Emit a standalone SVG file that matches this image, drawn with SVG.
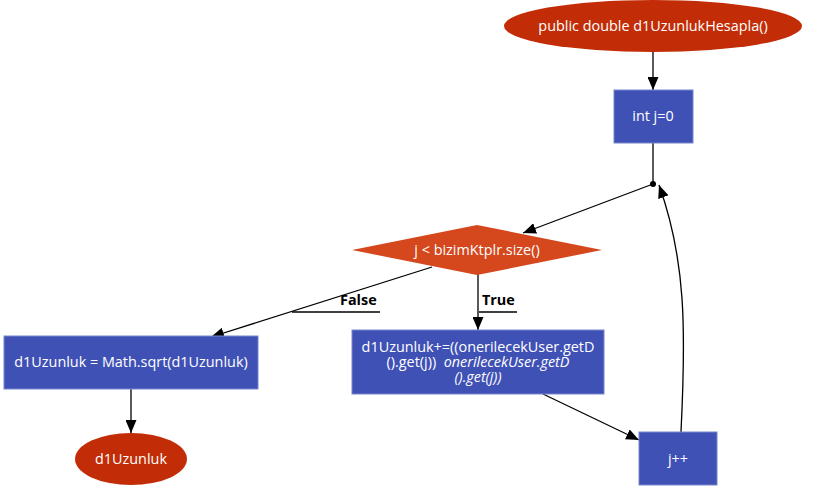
<svg xmlns="http://www.w3.org/2000/svg" width="817" height="492" viewBox="0 0 817 492">
<style>
text{font-family:"Open Sans","DejaVu Sans",sans-serif;font-size:14.4px;fill:#fff;text-anchor:middle}
.term{fill:#c22d07}
.box{fill:#3f51b5;stroke:#7986cb;stroke-width:1}
.dec{fill:#d5471c}
.e{fill:none;stroke:#000;stroke-width:1.3}
.lbl{fill:#000;font-weight:bold;text-anchor:start}
.it{font-style:italic}
</style>
<defs>
<marker id="a" markerWidth="13" markerHeight="11" refX="13" refY="5.5" orient="auto" markerUnits="userSpaceOnUse" viewBox="0 0 13 11">
<path d="M0,0 L13,5.5 L0,11 z" fill="#000"/>
</marker>
</defs>
<g id="edges">
<line class="e" x1="653" y1="52" x2="653" y2="90" marker-end="url(#a)"/>
<line class="e" x1="653" y1="143" x2="653" y2="184"/>
<circle cx="653" cy="184" r="3" fill="#000"/>
<line class="e" x1="653" y1="184" x2="523" y2="233" marker-end="url(#a)"/>
<line class="e" x1="478" y1="274" x2="478" y2="330" marker-end="url(#a)"/>
<line class="e" x1="432" y1="267" x2="211" y2="337" marker-end="url(#a)"/>
<line class="e" x1="543" y1="394" x2="639" y2="440" marker-end="url(#a)"/>
<path class="e" d="M681,432 C686,330 686,260 659,185" marker-end="url(#a)"/>
<line class="e" x1="131" y1="389" x2="131" y2="433" marker-end="url(#a)"/>
<text class="lbl" x="340" y="305">False</text>
<line class="e" x1="292" y1="312" x2="380" y2="312"/>
<text class="lbl" x="482" y="305">True</text>
<line class="e" x1="479" y1="312" x2="517" y2="312"/>
</g>
<g id="start">
<ellipse class="term" cx="653" cy="26" rx="149" ry="26"/>
<text x="653" y="31">public double d1UzunlukHesapla()</text>
</g>
<g id="init">
<rect class="box" x="614" y="90" width="79" height="53"/>
<text x="653" y="121">int j=0</text>
</g>
<g id="cond">
<polygon class="dec" points="477,225 602,250 477,275 352,250"/>
<text x="477" y="255">j &lt; bizimKtplr.size()</text>
</g>
<g id="body">
<rect class="box" x="352" y="330" width="252" height="64"/>
<text><tspan x="478" y="352">d1Uzunluk+=((onerilecekUser.getD</tspan><tspan x="478" y="367">().get(j))&#160;&#160;<tspan class="it">onerilecekUser.getD</tspan></tspan><tspan x="478" y="382" class="it">().get(j))</tspan></text>
</g>
<g id="sqrt">
<rect class="box" x="4" y="336" width="254" height="53"/>
<text x="131" y="367">d1Uzunluk = Math.sqrt(d1Uzunluk)</text>
</g>
<g id="ret">
<ellipse class="term" cx="131" cy="459" rx="56" ry="26"/>
<text x="131" y="464">d1Uzunluk</text>
</g>
<g id="inc">
<rect class="box" x="639" y="432" width="78" height="53"/>
<text x="678" y="464">j++</text>
</g>
</svg>
